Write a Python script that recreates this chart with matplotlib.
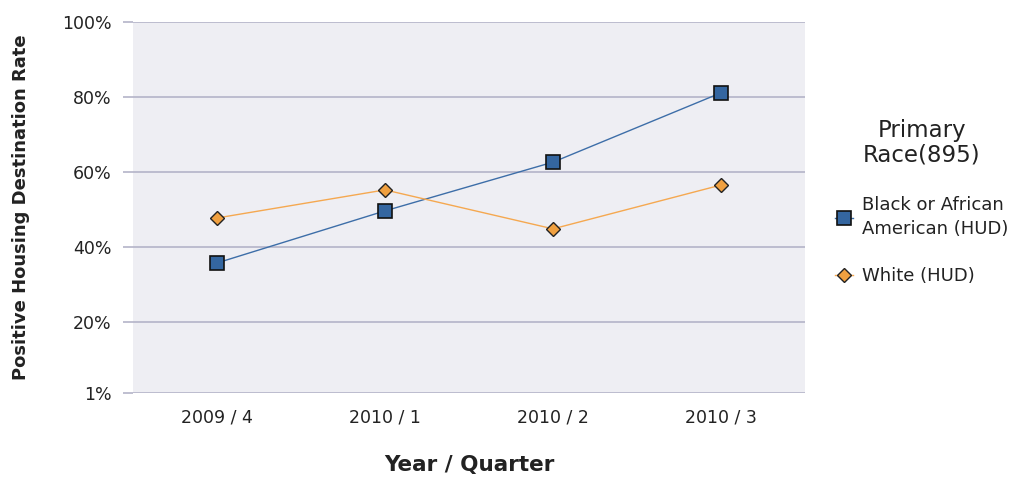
import matplotlib
matplotlib.use("Agg")
import matplotlib.pyplot as plt
from matplotlib.ticker import FixedLocator, FixedFormatter

plt.rcParams['font.family'] = ['DejaVu Sans']

quarters = ["2009 / 4", "2010 / 1", "2010 / 2", "2010 / 3"]
black_vals = [35.7, 49.6, 62.6, 81.1]
white_vals = [47.7, 55.2, 44.8, 56.5]
y_ticks = [1, 20, 40, 60, 80, 100]
y_tick_labels = ["1%", "20%", "40%", "60%", "80%", "100%"]
series_names = ["Black or African\nAmerican (HUD)", "White (HUD)"]
legend_title = "Primary\nRace(895)"

fig = plt.figure(figsize=(10.33, 4.82), dpi=100)
ax = fig.add_axes([133/1033, 89/482, (805-133)/1033, (393-22)/482])
ax.set_facecolor("#eeeef3")
for s in ax.spines.values():
    s.set_visible(False)

x = list(range(len(quarters)))
grid_c = "#b4b4c8"
txt_c = "#222222"
ax.set_ylim(1, 100)
ax.set_xlim(-0.5, len(quarters) - 0.5)
ax.yaxis.set_major_locator(FixedLocator(y_ticks))
ax.yaxis.set_major_formatter(FixedFormatter(y_tick_labels))
ax.grid(axis="y", color=grid_c, linewidth=1.2, zorder=0)
ax.set_axisbelow(True)
ax.tick_params(axis="y", length=7.5, width=1.2, color=grid_c, labelsize=12.5,
               labelcolor=txt_c, pad=8)
ax.set_xticks(x)
ax.set_xticklabels(quarters)
ax.tick_params(axis="x", length=0, labelsize=12.5, labelcolor=txt_c, pad=11)

l1, = ax.plot(x, black_vals, color="#3d6ea8", linewidth=1.0, marker="s",
              markersize=9.5, markerfacecolor="#3466a0", markeredgecolor="#111111",
              markeredgewidth=1.2, zorder=3)
l2, = ax.plot(x, white_vals, color="#f5a850", linewidth=1.0, marker="D",
              markersize=7.5, markerfacecolor="#f0a040", markeredgecolor="#222222",
              markeredgewidth=1.0, zorder=3)

ax.set_ylabel("Positive Housing Destination Rate", fontsize=13, fontweight="bold",
              labelpad=23, color=txt_c)
ax.set_xlabel("Year / Quarter", fontsize=15.5, fontweight="bold", labelpad=21,
              color=txt_c)

leg = fig.legend([l1, l2], series_names, title=legend_title, loc="upper left",
                 bbox_to_anchor=(835/1033, 1 - 119/482), frameon=False,
                 fontsize=13, title_fontsize=16.5, handlelength=1.0,
                 handletextpad=0.5, labelspacing=1.6, borderaxespad=0,
                 borderpad=0)
leg.get_title().set_multialignment("center")
leg.get_title().set_linespacing(1.1)
for t in leg.get_texts():
    t.set_color(txt_c)
    t.set_linespacing(1.45)
leg.get_title().set_color(txt_c)

fig.savefig("out.png", dpi=100)
